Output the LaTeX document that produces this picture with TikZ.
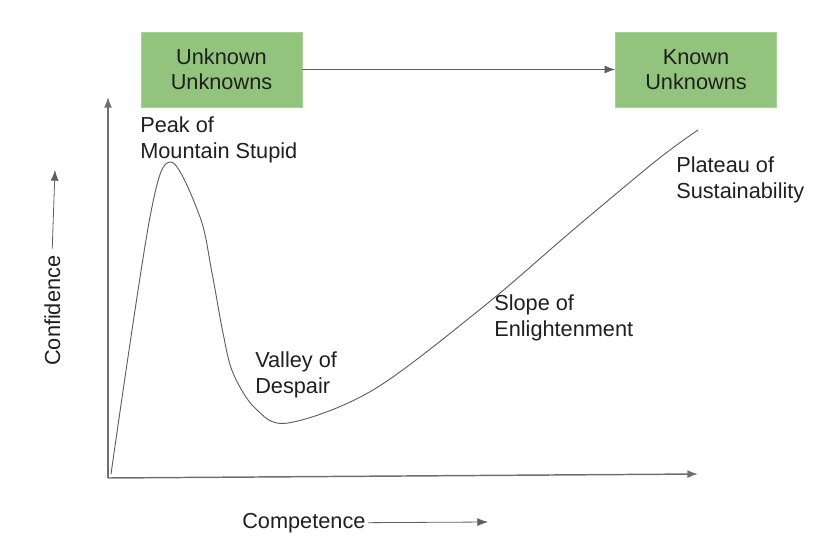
\documentclass[tikz,border=0pt]{standalone}
\usepackage{fontspec}
\setmainfont{Liberation Sans}
\usepackage{tikz}
\usetikzlibrary{arrows.meta}
\definecolor{boxgreen}{HTML}{93C47D}
\definecolor{linegray}{HTML}{5F5F5F}
\definecolor{textgray}{HTML}{1F1F1F}

\begin{document}
\begin{tikzpicture}[x=0.75pt, y=-0.75pt, box/.style={rectangle, fill=boxgreen, draw=boxgreen!80!white, minimum width=120.75pt, minimum height=56.25pt, align=center, inner sep=0pt, text=textgray, font=\fontsize{16.3}{18.75}\selectfont}, lbl/.style={align=left, inner sep=0pt, text=textgray, font=\fontsize{16.3}{19.5}\selectfont}, n/.style={-{Latex[length=8pt, width=6pt]}, line width=0.6pt, draw=linegray}, ax/.style={-{Latex[length=8pt, width=6pt]}, line width=1.1pt, draw=linegray!90!white}]
            \useasboundingbox (0,0) rectangle (830,542);
            % nodes
            \node[box] (uu) at (221.5,69.5) {Unknown\\Unknowns};
            \node[box] (ku) at (696,69.5) {Known\\Unknowns};
            \node[lbl, anchor=base west] (peak) at (140,158) {Peak of\\Mountain Stupid};
            \node[lbl, anchor=base west] (valley) at (255,393) {Valley of\\Despair};
            \node[lbl, anchor=base west] (slope) at (494,336) {Slope of\\Enlightenment};
            \node[lbl, anchor=base west] (plateau) at (676,198) {Plateau of\\Sustainability};
            \node[lbl, anchor=base west] (comp) at (242,528) {Competence};
            \node[lbl, anchor=base west, rotate=90] (conf) at (60,366) {Confidence};
            \coordinate (o) at (108,478);
            \coordinate (xend) at (698,474);
            \coordinate (yend) at (108,97);
            \coordinate (compend) at (488,522);
            \coordinate (confend) at (55,170);
            % edges
            \draw [n] (uu) -- (ku);
            \draw [ax] (o) -- (xend);
            \draw [ax] (o) -- (yend);
            \draw [n] (comp.east) ++(2,0) -- (compend);
            \draw [n] (conf.east) ++(0,-7) -- (confend);
            % curve
            \draw [line width=0.7pt, linegray] plot[smooth, tension=0.55] coordinates {(111,474) (150,217) (171,162) (200,217) (212,273) (223,333) (233,373) (255,408) (288,423) (373,390) (483,307) (573,230) (657,160) (698,130)};
        \end{tikzpicture}
\end{document}
